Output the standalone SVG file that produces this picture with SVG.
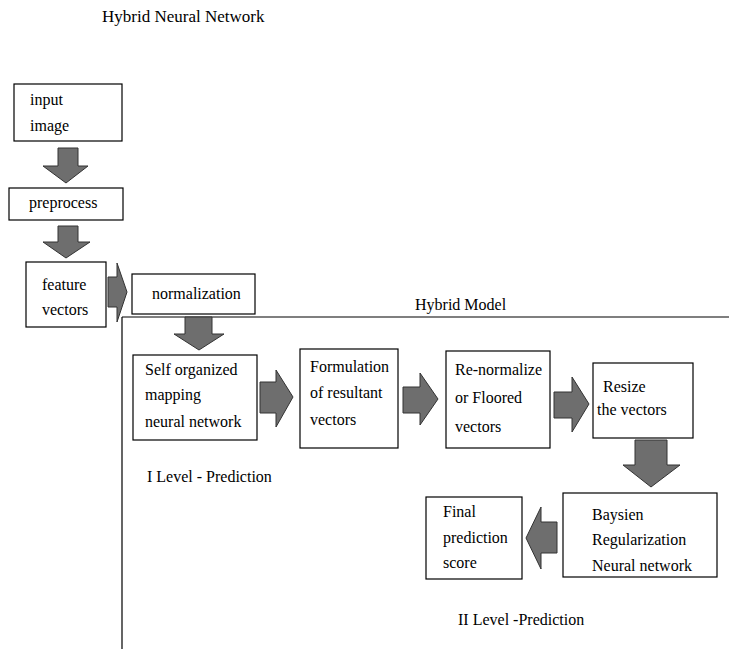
<svg xmlns="http://www.w3.org/2000/svg" width="729" height="649" viewBox="0 0 729 649">
<style>
.box{fill:#fff;stroke:#000;stroke-width:1.2}
.t{font-family:"Liberation Serif","Times New Roman",serif;font-size:16px;fill:#000}
.arr{fill:#6e6e6e;stroke:#333;stroke-width:1}
.ln{stroke:#000;stroke-width:1.2;fill:none}
</style>
<rect width="729" height="649" fill="#fff"/>
<text class="t" x="102" y="22" style="font-size:17px">Hybrid Neural Network</text>
<text class="t" x="415" y="310">Hybrid Model</text>
<text class="t" x="147" y="482">I Level - Prediction</text>
<text class="t" x="458" y="625">II Level -Prediction</text>

<g id="connectors">
<path class="ln" d="M122,317 H729 M122,317 V649"/>
<polygon class="arr" points="58,148 78,148 78,166 88,166 66,183 43,166 58,166"/>
<polygon class="arr" points="58,226 78,226 78,242 90,242 66,258 43,242 58,242"/>
<polygon class="arr" points="108,277 117,277 117,263 127,292 117,322 117,307 108,307"/>
<polygon class="arr" points="185,317 212,317 212,334 224,334 199,350 174,334 185,334"/>
<polygon class="arr" points="260,382 276,382 276,370 293,397 276,427 276,413 260,413"/>
<polygon class="arr" points="403,387 420,387 420,373 438,399 420,425 420,413 403,413"/>
<polygon class="arr" points="554,392 572,392 572,377 589,404 572,432 572,418 554,418"/>
<polygon class="arr" points="635,440 667,440 667,465 680,465 651,487 623,465 635,465"/>
<polygon class="arr" points="557,522 541,522 541,507 526,538 541,569 541,553 557,553"/>
</g>

<g id="input">
<rect class="box" x="14" y="84" width="108" height="57"/>
<text class="t" x="30" y="105">input</text>
<text class="t" x="30" y="131">image</text>
</g>
<g id="preprocess">
<rect class="box" x="9" y="188" width="114" height="32"/>
<text class="t" x="29" y="208">preprocess</text>
</g>
<g id="feature">
<rect class="box" x="26" y="262" width="80" height="65"/>
<text class="t" x="42" y="290">feature</text>
<text class="t" x="42" y="315">vectors</text>
</g>
<g id="normalization">
<rect class="box" x="132" y="274" width="123" height="40"/>
<text class="t" x="152" y="299">normalization</text>
</g>
<g id="som">
<rect class="box" x="133" y="355" width="124" height="85"/>
<text class="t" x="145" y="375">Self organized</text>
<text class="t" x="145" y="400">mapping</text>
<text class="t" x="145" y="427">neural network</text>
</g>
<g id="formulation">
<rect class="box" x="300" y="349" width="98" height="99"/>
<text class="t" x="310" y="372">Formulation</text>
<text class="t" x="310" y="398">of resultant</text>
<text class="t" x="310" y="425">vectors</text>
</g>
<g id="renormalize">
<rect class="box" x="446" y="351" width="104" height="97"/>
<text class="t" x="455" y="375">Re-normalize</text>
<text class="t" x="455" y="403">or Floored</text>
<text class="t" x="455" y="432">vectors</text>
</g>
<g id="resize">
<rect class="box" x="593" y="363" width="100" height="75"/>
<text class="t" x="603" y="392">Resize</text>
<text class="t" x="597" y="415">the vectors</text>
</g>
<g id="baysien">
<rect class="box" x="563" y="493" width="154" height="84"/>
<text class="t" x="592" y="520">Baysien</text>
<text class="t" x="592" y="545">Regularization</text>
<text class="t" x="592" y="571">Neural network</text>
</g>
<g id="final">
<rect class="box" x="426" y="497" width="96" height="82"/>
<text class="t" x="443" y="517">Final</text>
<text class="t" x="443" y="543">prediction</text>
<text class="t" x="443" y="568">score</text>
</g>
</svg>
